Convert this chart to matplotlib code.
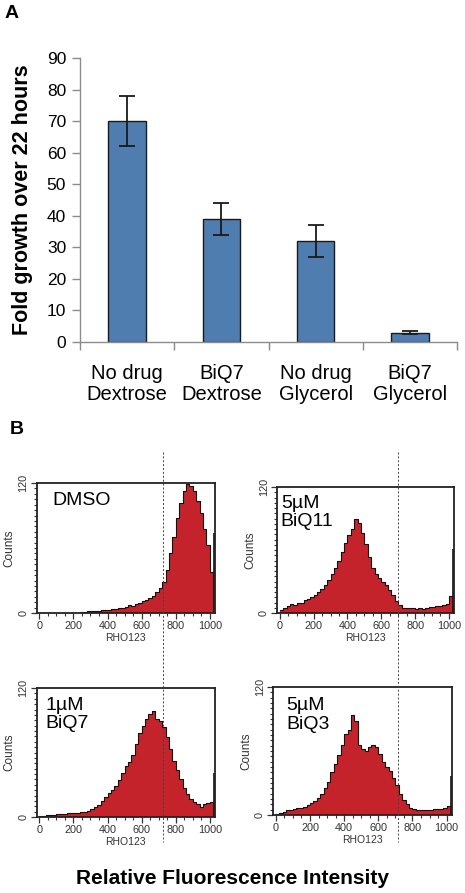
import numpy as np
import matplotlib
matplotlib.use("Agg")
import matplotlib.pyplot as plt
from matplotlib.lines import Line2D
from matplotlib.transforms import blended_transform_factory
from matplotlib.ticker import MultipleLocator

plt.rcParams['font.family'] = ['Liberation Sans', 'DejaVu Sans']

# ---------------- Panel A data ----------------
categories = ["No drug\nDextrose", "BiQ7\nDextrose", "No drug\nGlycerol", "BiQ7\nGlycerol"]
fold_growth = [70, 39, 32, 3]
fold_err = [8, 5, 5, 0.5]
y_ticks = [0, 10, 20, 30, 40, 50, 60, 70, 80, 90]

# ---------------- Panel B data (RHO123 histograms, 20-unit bins from 0 to 1000) ----------------
bin_starts = list(range(0, 1001, 20))
hist_dmso = [0, 0, 0, 0, 0, 0, 0, 0, 0, 0, 0, 0, 0.5, 1, 1.5, 1.5, 2, 2, 2.5, 3,
             3, 3.5, 4, 4.5, 5, 6, 7, 6.5, 8, 9, 11, 12, 14, 16, 19, 23, 29, 40, 55, 70,
             88, 102, 113, 119, 117, 113, 103, 92, 78, 63, 38]
hist_biq11 = [3, 5, 7, 9, 8, 10, 10, 12, 13, 15, 17, 20, 23, 27, 31, 37, 43, 50, 58, 67,
              74, 80, 90, 86, 76, 66, 53, 43, 37, 33, 30, 27, 22, 17, 11, 8, 5, 5, 5, 4.5,
              4, 4.5, 4, 5, 6, 6, 7, 7, 8, 9, 16]
hist_biq7 = [1, 1, 1.5, 2, 2, 2.5, 3, 3, 3.5, 3.5, 4, 4, 4.5, 5, 6, 7.5, 9, 11, 15, 19,
             22, 25, 29, 34, 41, 47, 51, 58, 68, 78, 85, 91, 96, 99, 91, 89, 84, 74, 63, 52,
             44, 35, 27, 21, 17, 14, 12, 9, 12, 13, 14]
hist_biq3 = [1, 2, 3, 4.5, 5, 6, 6.5, 7, 7.5, 9, 11, 13, 16, 20, 25, 31, 40, 48, 56, 66,
             76, 80, 94, 88, 66, 62, 60, 64, 66, 64, 57, 50, 45, 41, 35, 28, 20, 14, 10, 7,
             6, 5, 5, 4.5, 4.5, 5, 5.5, 6, 6, 7, 8.5]
# counts in the saturated last channel (1023)
last_channel = [74, 61, 41, 37]
hist_labels = ["DMSO", "5\u00b5M\nBiQ11", "1\u00b5M\nBiQ7", "5\u00b5M\nBiQ3"]
gate_left = 725
gate_right = 700
x_ticks_hist = [0, 200, 400, 600, 800, 1000]

W, H = 465, 893
fig = plt.figure(figsize=(W / 100, H / 100), dpi=100)

# ---------------- Panel A ----------------
axA = fig.add_axes([80 / W, 1 - 342 / H, 377 / W, 284 / H])
x = np.arange(len(categories))
axA.bar(x, fold_growth, width=0.4, color='#4F7DB0', edgecolor='#1a1a1a', linewidth=1.0, zorder=2)
axA.errorbar(x, fold_growth, yerr=fold_err, fmt='none', ecolor='#1a1a1a', elinewidth=1.3,
             capsize=5.5, capthick=1.3, zorder=3)
axA.set_xlim(-0.5, len(categories) - 0.5)
axA.set_ylim(0, 90)
axA.set_yticks(y_ticks)
axA.set_yticklabels([str(v) for v in y_ticks], fontsize=12.5)
axA.set_xticks(np.arange(len(categories) + 1) - 0.5)
axA.set_xticklabels([])
axA.set_xticks(x, minor=True)
axA.set_xticklabels(categories, minor=True, fontsize=14.5, linespacing=1.15)
axA.tick_params(axis='x', which='major', direction='out', length=6, color='#8c8c8c', width=1)
axA.tick_params(axis='x', which='minor', length=0, pad=16)
axA.tick_params(axis='y', direction='out', length=6, color='#8c8c8c', width=1, pad=4)
for s in ['top', 'right']:
    axA.spines[s].set_visible(False)
for s in ['left', 'bottom']:
    axA.spines[s].set_color('#8c8c8c')
    axA.spines[s].set_linewidth(1.0)
axA.set_ylabel("Fold growth over 22 hours", fontsize=15.5, fontweight='bold', labelpad=10)
fig.text(5 / W, 1 - 5 / H, "A", fontsize=14, fontweight='bold', va='top', ha='left')
fig.text(10 / W, 1 - 421 / H, "B", fontsize=14, fontweight='bold', va='top', ha='left')

# ---------------- Panel B ----------------
rects = [
    (36.7, 483, 215, 613),
    (277.3, 487, 454, 613),
    (36.7, 688, 215, 817),
    (273.3, 687, 451.7, 815),
]
text_pos = [(0.09, 0.93), (0.02, 0.94), (0.05, 0.93), (0.075, 0.92)]
hists = [hist_dmso, hist_biq11, hist_biq7, hist_biq3]
axes = []
edges = np.append(np.array(bin_starts, dtype=float), 1023.0)
for i, (l, t, r, b) in enumerate(rects):
    ax = fig.add_axes([l / W, 1 - b / H, (r - l) / W, (b - t) / H])
    ax.set_facecolor('none')
    counts = np.array(hists[i], dtype=float)
    yy = np.append(counts, counts[-1])
    ax.fill_between(edges, yy, step='post', color='#C4232B', linewidth=0, zorder=1)
    ax.step(edges, yy, where='post', color='#111111', linewidth=0.8, zorder=2)
    ax.vlines(1023, 0, last_channel[i], color='#111111', linewidth=1.2, zorder=2)
    ax.set_xlim(-15, 1030)
    ax.set_ylim(0, 120)
    ax.set_xticks(x_ticks_hist)
    ax.set_xticklabels([str(v) for v in x_ticks_hist], fontsize=7.8, color='#333333')
    ax.xaxis.set_minor_locator(MultipleLocator(50))
    ax.set_yticks([0, 120])
    ax.set_yticklabels(['0', '120'], fontsize=7.8, color='#333333', rotation=90, va='center')
    ax.yaxis.set_minor_locator(MultipleLocator(5))
    ax.tick_params(axis='both', which='major', direction='out', length=4, width=0.9, color='#333333', pad=2)
    ax.tick_params(axis='both', which='minor', direction='out', length=2.5, width=0.8, color='#333333')
    for s in ax.spines.values():
        s.set_linewidth(1.3)
        s.set_color('#222222')
    ax.set_xlabel("RHO123", fontsize=7.5, color='#333333', labelpad=1)
    ax.set_ylabel("Counts", fontsize=8.5, color='#333333', labelpad=2)
    ax.text(text_pos[i][0], text_pos[i][1], hist_labels[i], transform=ax.transAxes,
            fontsize=14, va='top', ha='left', linespacing=1.1, zorder=5)
    axes.append(ax)

# gate lines spanning both rows in each column
for ax, gate in [(axes[0], gate_left), (axes[1], gate_right)]:
    tr = blended_transform_factory(ax.transData, fig.transFigure)
    fig.add_artist(Line2D([gate, gate], [1 - 452 / H, 1 - 842 / H], transform=tr,
                          color='#444444', linewidth=0.7, linestyle=(0, (2, 2)), zorder=10))

fig.text(0.5, 1 - 878 / H, "Relative Fluorescence Intensity", fontsize=15, fontweight='bold',
         ha='center', va='center')

fig.savefig("out.png", dpi=100)
